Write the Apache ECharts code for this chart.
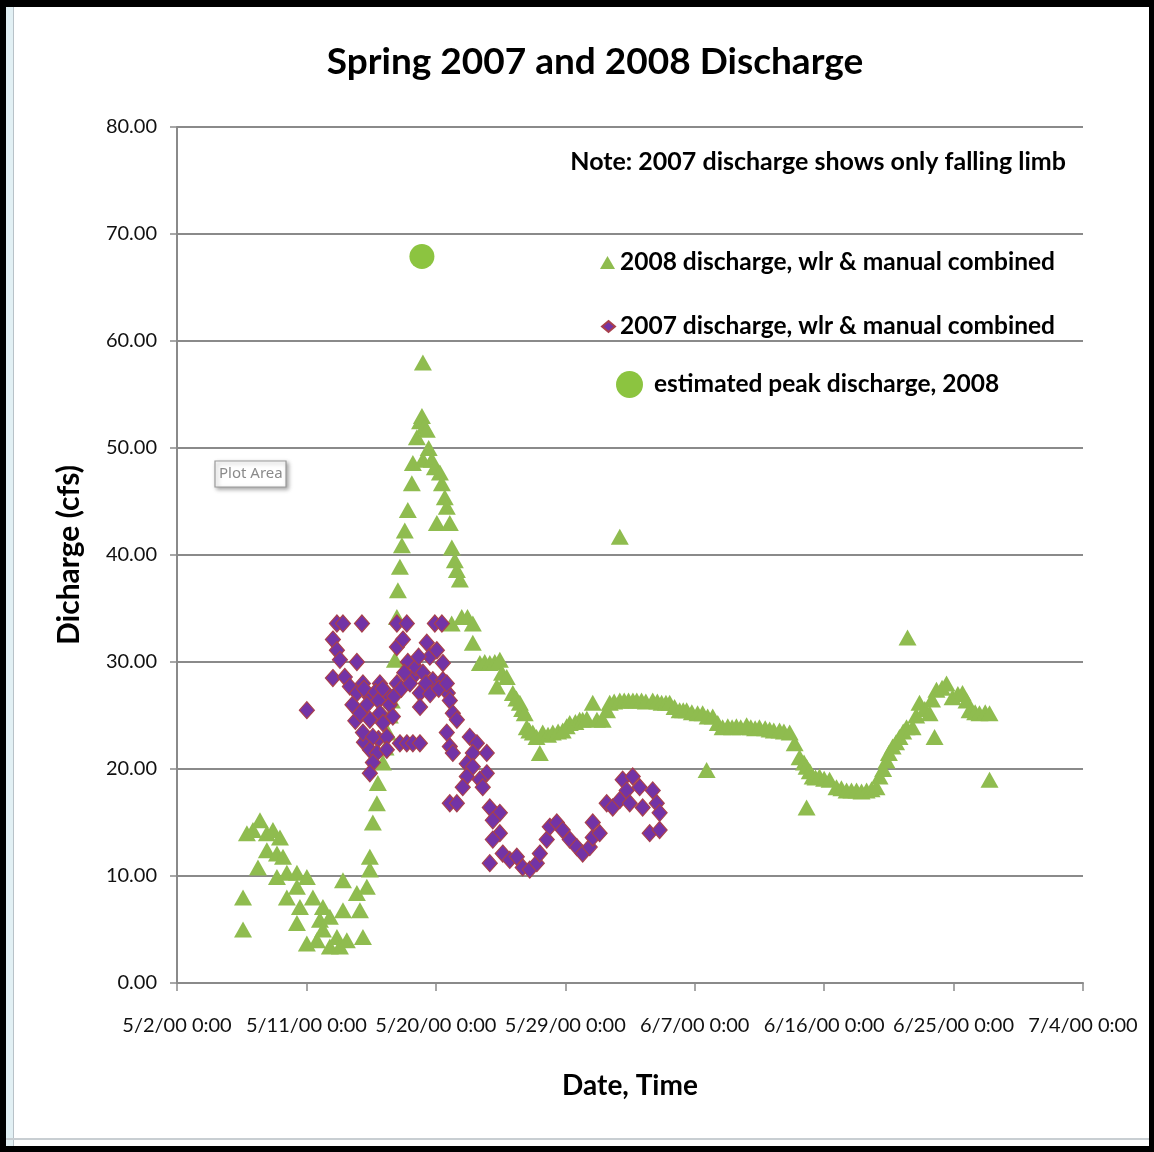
<!DOCTYPE html>
<html>
<head>
<meta charset="utf-8">
<script src="https://cdn.jsdelivr.net/npm/echarts@6/dist/echarts.min.js"></script>
<style>
  html, body { margin: 0; padding: 0; background: #ffffff; }
  #chart { position: absolute; left: 0; top: 0; width: 1154px; height: 1152px; }
</style>
</head>
<body>
<div id="chart"></div>
<script>
// Days are counted from 5/2/00 0:00; discharge in cfs.
const tickLabels = ['5/2/00 0:00', '5/11/00 0:00', '5/20/00 0:00', '5/29/00 0:00',
  '6/7/00 0:00', '6/16/00 0:00', '6/25/00 0:00', '7/4/00 0:00'];

const seriesNames = ['2008 discharge, wlr & manual combined',
  '2007 discharge, wlr & manual combined',
  'estimated peak discharge, 2008'];

// 2008 discharge [day, cfs]
const q2008 = [
  [4.59, 5.0], [4.59, 8.0], [4.86, 14.0], [5.28, 14.3], [5.63, 10.8], [5.77, 15.2], [6.25, 14.0],
  [6.25, 12.4], [6.67, 14.3], [6.95, 12.1], [6.95, 9.9], [7.16, 13.6], [7.37, 11.8], [7.64, 10.3],
  [7.64, 8.0], [8.34, 10.3], [8.34, 9.0], [8.34, 5.6], [8.55, 7.1], [9.03, 9.9], [9.03, 3.7],
  [9.45, 8.0], [9.73, 4.0], [9.94, 5.9], [10.15, 5.0], [10.15, 7.1], [10.63, 6.2], [10.63, 3.4],
  [11.12, 4.3], [11.33, 3.4], [11.54, 9.6], [11.54, 6.8], [11.81, 4.0], [12.51, 8.4], [12.72, 6.8],
  [12.93, 4.3], [13.20, 9.0], [13.41, 11.8], [13.41, 10.6], [13.62, 15.0], [13.90, 16.8],
  [13.97, 18.7], [14.32, 20.6], [14.5, 22.0], [14.66, 23.4], [14.8, 25.0], [14.94, 26.4],
  [15.15, 30.2], [15.29, 34.2], [15.36, 36.7], [15.50, 38.9], [15.64, 40.9], [15.84, 42.3],
  [16.05, 44.2], [16.33, 46.7], [16.40, 48.6], [16.68, 51.0], [16.9, 52.5], [17.03, 53.0],
  [17.10, 58.0], [17.10, 48.9], [17.2, 52.0], [17.37, 51.7], [17.5, 50.0], [17.72, 48.9],
  [17.93, 48.2], [18.07, 43.0], [18.28, 47.7], [18.42, 46.7], [18.62, 45.4], [18.76, 44.5],
  [18.97, 43.0], [19.11, 40.7], [19.32, 39.5], [19.46, 38.6], [19.67, 37.7], [19.1, 33.6],
  [19.8, 34.2], [20.2, 34.2], [20.57, 33.6], [20.57, 31.8], [21.06, 29.9], [21.4, 30.0],
  [21.75, 29.9], [22.1, 30.0], [22.45, 30.2], [22.24, 27.7], [22.6, 29.0], [22.93, 28.6],
  [23.35, 27.1], [23.6, 26.6], [23.84, 26.2], [24.0, 25.6], [24.18, 25.2], [24.32, 23.9],
  [24.5, 23.6], [24.74, 23.4], [25.0, 23.0], [25.23, 21.5], [25.43, 23.4], [25.8, 23.2],
  [26.13, 23.4], [26.5, 23.5], [26.82, 23.6], [27.1, 24.0], [27.31, 24.3], [27.7, 24.4],
  [28.0, 24.6], [28.21, 24.6], [28.5, 24.7], [28.91, 26.2], [29.2, 24.6], [29.60, 24.6],
  [29.9, 25.5], [30.09, 26.2], [30.4, 26.3], [30.79, 26.4], [31.1, 26.4], [31.4, 26.4],
  [31.7, 26.4], [31.97, 26.4], [32.3, 26.4], [32.6, 26.3], [33.08, 26.4], [33.4, 26.3],
  [33.7, 26.2], [34.0, 26.2], [34.26, 26.2], [34.6, 25.8], [34.95, 25.5], [35.2, 25.5],
  [35.44, 25.5], [35.8, 25.3], [36.2, 25.2], [36.55, 25.2], [36.9, 24.9], [37.25, 24.9],
  [37.6, 24.3], [37.94, 23.9], [38.3, 24.0], [38.6, 23.9], [38.9, 24.0], [39.2, 23.9],
  [39.61, 24.1], [39.9, 23.9], [40.2, 23.8], [40.5, 23.9], [40.9, 23.8], [41.21, 23.7],
  [41.5, 23.6], [41.90, 23.6], [42.2, 23.5], [42.60, 23.4], [42.95, 22.4], [43.29, 21.1],
  [43.6, 20.6], [43.78, 20.2], [44.0, 19.8], [44.20, 19.3], [44.4, 19.2], [44.68, 19.3],
  [45.0, 19.1], [45.38, 19.0], [45.86, 18.3], [46.2, 18.2], [46.56, 18.0], [46.9, 18.0],
  [47.25, 18.0], [47.6, 17.9], [47.95, 18.0], [48.3, 18.1], [48.64, 18.3], [48.85, 19.3],
  [49.1, 20.0], [49.34, 20.8], [49.5, 21.5], [49.76, 22.1], [50.0, 22.5], [50.24, 23.0],
  [50.5, 23.5], [50.73, 23.9], [51.15, 23.9], [51.4, 25.0], [51.63, 26.2], [52.0, 25.6],
  [52.33, 25.2], [52.5, 26.5], [52.81, 27.4], [53.2, 27.6], [53.51, 28.0], [53.93, 26.7],
  [54.3, 27.0], [54.62, 27.1], [54.9, 26.4], [55.11, 25.5], [55.5, 25.3], [55.80, 25.2],
  [56.2, 25.3], [56.50, 25.2],
  [30.79, 41.7], [36.83, 19.9], [43.78, 16.4], [50.80, 32.3], [52.68, 23.0], [56.50, 19.0]
];

// 2007 discharge [day, cfs]
const q2007 = [
  [9.03, 25.5],
  [11.12, 33.6], [11.54, 33.6], [12.86, 33.6], [15.29, 33.6], [15.98, 33.6], [17.93, 33.6], [18.42, 33.6],
  [10.84, 32.1], [11.12, 31.1], [11.33, 30.2], [12.51, 30.0], [10.84, 28.5], [11.67, 28.6],
  [12.02, 27.7], [12.51, 27.1], [12.93, 28.0], [13.41, 26.7], [14.11, 28.0], [14.59, 27.1],
  [15.29, 28.0], [15.29, 31.4], [15.71, 32.1], [16.05, 30.0], [16.40, 28.6], [16.89, 27.1],
  [17.37, 31.8], [17.58, 30.5], [18.07, 31.1], [18.49, 29.9], [17.79, 28.3], [18.49, 28.3],
  [18.83, 27.1], [13.0, 27.5], [13.2, 26.0], [13.8, 27.2], [14.0, 26.4], [14.3, 27.5],
  [14.8, 26.0], [15.1, 26.8], [15.6, 27.5], [15.8, 29.0], [16.2, 28.0], [16.6, 29.5],
  [16.8, 30.5], [17.1, 29.0], [17.3, 28.0], [16.9, 25.8], [17.6, 27.0], [18.2, 27.5],
  [12.2, 26.0], [12.4, 24.5], [13.0, 22.5], [14.0, 22.8],
  [12.72, 25.2], [13.41, 24.6], [14.11, 25.2], [12.93, 23.4], [13.62, 23.0], [14.59, 23.0],
  [14.32, 24.3], [15.01, 24.9], [15.50, 22.4], [15.98, 22.4], [16.40, 22.4], [16.89, 22.4],
  [13.41, 21.8], [13.90, 21.5], [14.59, 21.8], [13.62, 20.6], [13.41, 19.6],
  [18.76, 28.0], [18.97, 26.4], [19.18, 25.2], [19.46, 24.6], [18.76, 23.4], [18.97, 22.1],
  [19.18, 21.5], [20.36, 23.0], [20.85, 22.4], [20.57, 21.5], [21.54, 21.5], [20.15, 20.5],
  [20.57, 20.2], [21.54, 19.6], [20.15, 19.3], [21.06, 19.0], [21.26, 18.3], [19.87, 18.3],
  [18.97, 16.8], [19.46, 16.8], [21.75, 16.4], [22.45, 15.9], [21.96, 15.2], [22.45, 14.0],
  [21.96, 13.4], [21.75, 11.2], [22.65, 12.1], [23.14, 11.5], [23.63, 11.8], [24.04, 10.8],
  [24.53, 10.6], [25.02, 11.2], [25.23, 12.1], [25.71, 13.4], [25.92, 14.6], [26.41, 15.0],
  [26.82, 14.3], [27.31, 13.4], [27.80, 12.7], [28.21, 12.1], [28.70, 12.7], [28.91, 13.6],
  [28.91, 15.0], [29.39, 14.0], [29.88, 16.8], [30.30, 16.4], [30.79, 17.1], [30.99, 19.0],
  [31.69, 19.3], [31.27, 18.0], [31.48, 16.8], [32.17, 18.3], [32.38, 16.4], [33.08, 18.0],
  [33.36, 16.8], [33.56, 15.9], [32.87, 14.0], [33.56, 14.3]
];

// Estimated 2008 peak [day, cfs]
const peak2008 = [[17.03, 67.9]];

const FONT = 'Lato, "Open Sans", sans-serif';
const GREEN = '#8fbc4f';
const chart = echarts.init(document.getElementById('chart'), null, { renderer: 'canvas' });

chart.setOption({
  backgroundColor: '#ffffff',
  animation: false,
  title: {
    text: 'Spring 2007 and 2008 Discharge',
    left: 590, top: 39, textAlign: 'center',
    textStyle: { fontFamily: FONT, fontWeight: 'bold', fontSize: 37, color: '#000' }
  },
  grid: { left: 177, right: 71, top: 127, bottom: 169 },
  xAxis: {
    type: 'value', min: 0, max: 63, interval: 9,
    name: 'Date, Time', nameLocation: 'middle', nameGap: 89,
    nameTextStyle: { fontFamily: FONT, fontWeight: 'bold', fontSize: 28, color: '#000' },
    axisLine: { show: true, lineStyle: { color: '#8a8a8a', width: 2 } },
    axisTick: { show: true, length: 8, lineStyle: { color: '#8a8a8a', width: 1.5 } },
    axisLabel: {
      margin: 33, fontFamily: FONT, fontSize: 20, color: '#111',
      formatter: v => tickLabels[Math.round(v / 9)] || ''
    },
    splitLine: { show: false }
  },
  yAxis: {
    type: 'value', min: 0, max: 80, interval: 10,
    name: 'Dicharge (cfs)', nameLocation: 'middle', nameGap: 93,
    nameTextStyle: { fontFamily: FONT, fontWeight: 'bold', fontSize: 30, color: '#000' },
    axisLine: { show: true, lineStyle: { color: '#8a8a8a', width: 2 } },
    axisTick: { show: true, length: 7, lineStyle: { color: '#8a8a8a', width: 1.5 } },
    axisLabel: {
      margin: 20, fontFamily: FONT, fontSize: 20, color: '#111',
      formatter: v => v.toFixed(2)
    },
    splitLine: { show: true, lineStyle: { color: '#8a8a8a', width: 2 } }
  },
  legend: [
    {
      data: [seriesNames[0]], left: 600, top: 250, padding: 0,
      itemWidth: 15, itemHeight: 13, icon: 'triangle',
      textStyle: { fontFamily: FONT, fontWeight: 'bold', fontSize: 24.5, color: '#000' }
    },
    {
      data: [seriesNames[1]], left: 601, top: 314, padding: 0,
      itemWidth: 13, itemHeight: 11, icon: 'diamond',
      textStyle: { fontFamily: FONT, fontWeight: 'bold', fontSize: 24.5, color: '#000' }
    },
    {
      data: [seriesNames[2]], left: 616, top: 371, padding: 0,
      itemWidth: 27, itemHeight: 27, icon: 'circle', itemGap: 10,
      textStyle: { fontFamily: FONT, fontWeight: 'bold', fontSize: 24.5, color: '#000', padding: [0, 0, 0, 6] }
    }
  ],
  series: [
    {
      name: seriesNames[0], type: 'scatter', data: q2008,
      symbol: 'triangle', symbolSize: [18, 16],
      itemStyle: { color: GREEN, opacity: 1 }, z: 2
    },
    {
      name: seriesNames[1], type: 'scatter', data: q2007,
      symbol: 'diamond', symbolSize: [15, 17],
      itemStyle: { color: '#7333a6', borderColor: '#a8404c', borderWidth: 1.2, opacity: 1 }, z: 3
    },
    {
      name: seriesNames[2], type: 'scatter', data: peak2008,
      symbol: 'circle', symbolSize: 25,
      itemStyle: { color: '#8cc440', opacity: 1 }, z: 4
    }
  ],
  graphic: [
    {
      type: 'text', right: 88, top: 149, z: 10,
      style: { text: 'Note: 2007 discharge shows only falling limb', font: 'bold 25px ' + FONT, fill: '#000' }
    },
    // "Plot Area" hover tip
    {
      type: 'rect', shape: { x: 215, y: 461, width: 71, height: 26 }, z: 10,
      style: { fill: '#ffffff', stroke: '#9a9a9a', lineWidth: 1.2, shadowBlur: 4, shadowOffsetX: 2, shadowOffsetY: 2, shadowColor: 'rgba(0,0,0,0.35)' }
    },
    {
      type: 'text', x: 219, y: 466, z: 11,
      style: { text: 'Plot Area', font: '15px "Noto Sans", sans-serif', fill: '#8a8a8a' }
    },
    // window frame
    { type: 'rect', shape: { x: 6, y: 7, width: 7, height: 1139 }, z: 20, style: { fill: '#e2f0f4' } },
    { type: 'rect', shape: { x: 13, y: 7, width: 1, height: 1139 }, z: 20, style: { fill: '#b8c2c8' } },
    { type: 'rect', shape: { x: 6, y: 1138, width: 1143, height: 2 }, z: 20, style: { fill: '#c8ced2' } },
    { type: 'rect', shape: { x: 0, y: 0, width: 1154, height: 7 }, z: 21, style: { fill: '#000' } },
    { type: 'rect', shape: { x: 0, y: 0, width: 6, height: 1152 }, z: 21, style: { fill: '#000' } },
    { type: 'rect', shape: { x: 1149, y: 0, width: 5, height: 1152 }, z: 21, style: { fill: '#000' } },
    { type: 'rect', shape: { x: 0, y: 1146, width: 1154, height: 6 }, z: 21, style: { fill: '#000' } }
  ]
});
</script>
</body>
</html>
